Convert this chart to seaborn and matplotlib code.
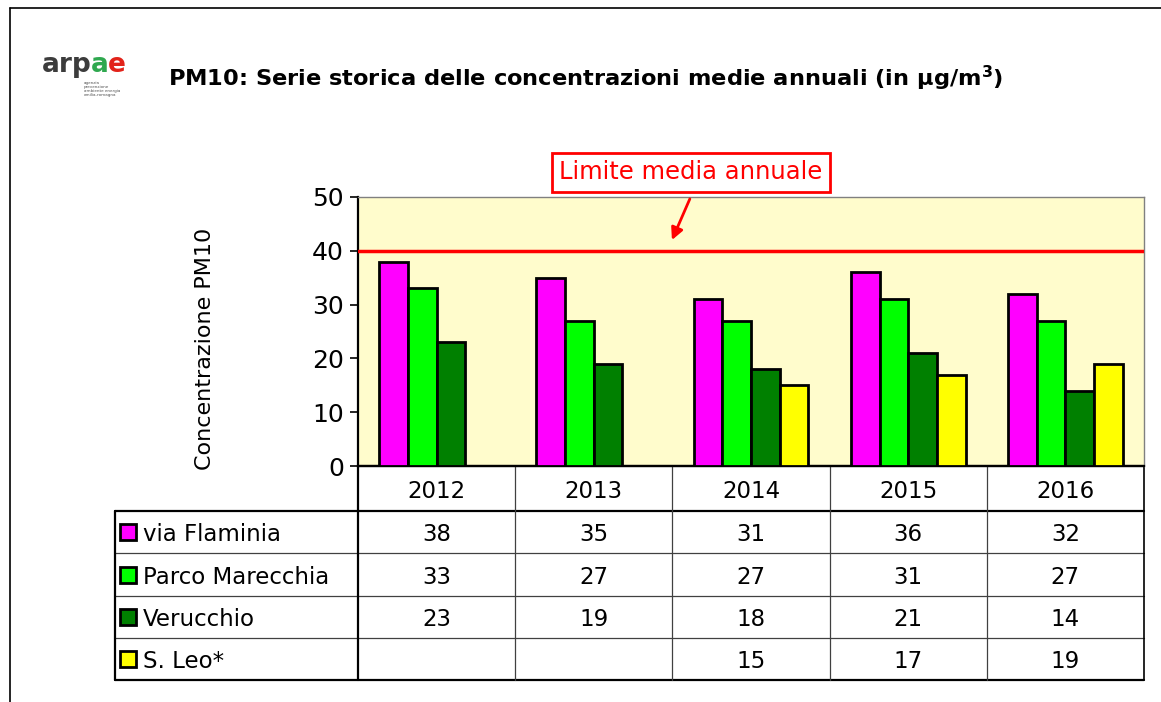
# PM10 annual mean concentrations - bar chart with data table underneath

import pandas as pd
import seaborn as sns
import matplotlib.pyplot as plt
import matplotlib.transforms as mtransforms
from matplotlib.lines import Line2D

years = ['2012', '2013', '2014', '2015', '2016']
via_flaminia = [38, 35, 31, 36, 32]
parco_marecchia = [33, 27, 27, 31, 27]
verucchio = [23, 19, 18, 21, 14]
s_leo = [None, None, 15, 17, 19]
stations = ['via Flaminia', 'Parco Marecchia', 'Verucchio', 'S. Leo*']
colors = ['#FF00FF', '#00FF00', '#008000', '#FFFF00']
limit = 40

series = [via_flaminia, parco_marecchia, verucchio, s_leo]
rows = []
for st, vals in zip(stations, series):
    for y, v in zip(years, vals):
        if v is not None:
            rows.append({'anno': y, 'stazione': st, 'valore': v})
df = pd.DataFrame(rows)

sns.set_style('white')
plt.rcParams['font.family'] = ['DejaVu Sans']
plt.rcParams['mathtext.fontset'] = 'dejavusans'
# plain black text like the original spreadsheet chart
for k in ['text.color', 'axes.labelcolor', 'xtick.color', 'ytick.color']:
    plt.rcParams[k] = 'black'

W, H = 1161, 702
fig = plt.figure(figsize=(W / 100, H / 100), dpi=100)
fig.patch.set_facecolor('white')

# plot area in pixels: x 358..1144, y 197..466
ax = fig.add_axes([358 / W, 1 - 466 / H, 786 / W, 269 / H])
ax.set_facecolor('#FFFCCC')

sns.barplot(data=df, x='anno', y='valore', hue='stazione', order=years,
            hue_order=stations, palette=colors, saturation=1, width=0.73,
            errorbar=None, edgecolor='black', linewidth=2, legend=False, ax=ax, zorder=3)

ax.set_xlim(-0.5, 4.5)
ax.set_ylim(0, 50)
ax.set_yticks(range(0, 51, 10))
ax.tick_params(axis='y', labelsize=18, length=6, width=1.2, color='black',
               labelcolor='black', left=True, direction='out', pad=4)
ax.set_xticks([])
ax.set_xlabel('')
ax.set_ylabel('Concentrazione PM10', fontsize=16, color='black')
ax.yaxis.set_label_coords(-0.182, 0.435)
for s in ['top', 'right']:
    ax.spines[s].set_color('#808080')
    ax.spines[s].set_linewidth(1)
for s in ['left', 'bottom']:
    ax.spines[s].set_color('black')
    ax.spines[s].set_linewidth(1.6)

# limit line and callout
ax.axhline(limit, color='#FF0000', lw=2.5, zorder=4)
ax.annotate('Limite media annuale', xy=(1.497, 42.0), xytext=(1.618, 54.6),
            textcoords='data', fontsize=17.5, color='#FF0000', ha='center', va='center',
            bbox=dict(boxstyle='square,pad=0.3', fc='white', ec='#FF0000', lw=2),
            arrowprops=dict(arrowstyle='-|>', color='#FF0000', lw=2, mutation_scale=18,
                            relpos=(0.52, 0), shrinkA=5, shrinkB=0),
            annotation_clip=False, zorder=5)

# data table below the plot
trans = mtransforms.blended_transform_factory(ax.transData, ax.transAxes)
px_cat = 786 / 5
px_ax = 269
x_left = -0.5 - (358 - 115) / px_cat
row_edges = [-(p - 466) / px_ax for p in (466, 511, 553, 596, 638, 680)]
tfs = 16.5

# header with years
for i, y in enumerate(years):
    ax.text(i, (row_edges[0] + row_edges[1]) / 2, y, transform=trans, ha='center',
            va='center_baseline', fontsize=tfs, color='black')

for r, (st, vals, c) in enumerate(zip(stations, series, colors)):
    yc = (row_edges[r + 1] + row_edges[r + 2]) / 2
    ax.plot([-0.5 - (358 - 128) / px_cat], [yc], marker='s', ms=11, mfc=c, mec='black',
            mew=2, transform=trans, clip_on=False)
    ax.text(-0.5 - (358 - 143) / px_cat, yc, st, transform=trans, ha='left',
            va='center_baseline', fontsize=tfs, color='black')
    for i, v in enumerate(vals):
        if v is not None:
            ax.text(i, yc, str(v), transform=trans, ha='center', va='center_baseline',
                    fontsize=tfs, color='black')

# table grid lines
def tline(xs, ys, lw, color='black'):
    ax.add_line(Line2D(xs, ys, transform=trans, color=color, lw=lw, clip_on=False))

tline([-0.5, 4.5], [row_edges[0]] * 2, 1.6)
tline([x_left, 4.5], [row_edges[1]] * 2, 1.6)
for e in row_edges[2:5]:
    tline([x_left, 4.5], [e, e], 0.9, '#404040')
tline([x_left, 4.5], [row_edges[5]] * 2, 1.6)
tline([x_left, x_left], [row_edges[1], row_edges[5]], 1.6)
tline([-0.5, -0.5], [0, row_edges[5]], 1.6)
tline([4.5, 4.5], [0, row_edges[5]], 1.2)
for i in range(1, 5):
    tline([i - 0.5, i - 0.5], [0, row_edges[5]], 0.9, '#404040')

# title
fig.text(168 / W, 1 - 78 / H,
         r'PM10: Serie storica delle concentrazioni medie annuali (in µg/m$^\mathbf{3}$)',
         fontsize=16.2, fontweight='bold', ha='left', va='center', color='black')

# logo: letters placed one after another
renderer = fig.canvas.get_renderer()
x = 42 / W
for part, col in [('arp', '#3C3C3C'), ('a', '#2FA84F'), ('e', '#E2231A')]:
    t = fig.text(x, 1 - 72 / H, part, fontsize=19, fontweight='bold', color=col,
                 ha='left', va='baseline')
    bb = t.get_window_extent(renderer)
    x = bb.x1 / W - 1 / W
fig.text(84 / W, 1 - 89 / H, 'agenzia\nprevenzione\nambiente energia\nemilia-romagna',
         fontsize=3, color='#555555', ha='left', va='center', linespacing=1.1)

# outer frame
fig.add_artist(Line2D([10 / W, 1], [1 - 8 / H, 1 - 8 / H], color='black', lw=1.2))
fig.add_artist(Line2D([10 / W, 10 / W], [0, 1 - 8 / H], color='black', lw=1.2))

fig.savefig('out.png', dpi=100)
